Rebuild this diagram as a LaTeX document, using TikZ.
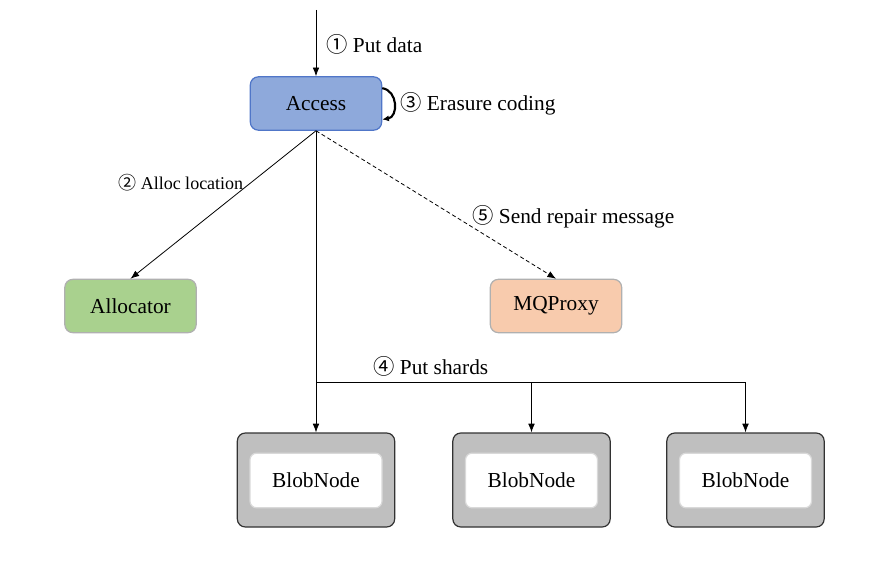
\documentclass[tikz,border=0pt]{standalone}
\usepackage{fontspec}
\setmainfont{Liberation Serif}
\newfontfamily\circfont{Noto Sans CJK SC}
\usepackage{tikz}
\usetikzlibrary{arrows.meta}

\definecolor{accessfill}{RGB}{142,169,219}
\definecolor{accessdraw}{RGB}{80,118,200}
\definecolor{allocfill}{RGB}{169,209,142}
\definecolor{mqfill}{RGB}{248,203,173}
\definecolor{boxgray}{RGB}{176,176,176}
\definecolor{blobfill}{RGB}{191,191,191}
\definecolor{blobdraw}{RGB}{50,50,50}

\newcommand{\stepno}[1]{{\circfont #1}}

\tikzset{
  every node/.style={font=\fontsize{16}{19}\selectfont},
  svcbox/.style={draw=boxgray, rounded corners=6pt, line width=0.9pt,
    minimum width=98.5pt, minimum height=40pt, inner sep=0.75pt},
  blobouter/.style={draw=blobdraw, fill=blobfill, rounded corners=6pt,
    line width=0.9pt, minimum width=118pt, minimum height=70.5pt},
  blobinner/.style={draw=black!15, fill=white, rounded corners=5pt,
    line width=0.9pt, minimum width=99pt, minimum height=41pt, inner sep=0.75pt},
  arr/.style={-{Latex[length=6.5pt,width=5pt]}, line width=0.6pt},
  steptext/.style={anchor=west, inner sep=0.75pt},
}

\begin{document}
\begin{tikzpicture}[x=0.75pt,y=0.75pt,yscale=-1,xscale=1]
\useasboundingbox (0,0) rectangle (871,570);

%Shape: Rounded Rect [Access]
\node [svcbox, fill=accessfill, draw=accessdraw] (access) at (316,103.5) {Access};
%Shape: Rounded Rect [Allocator]
\node [svcbox, fill=allocfill] (allocator) at (130.5,306) {Allocator};
%Shape: Rounded Rect [MQProxy]
\node [svcbox, fill=mqfill] (mqproxy) at (556,306) {MQProxy};

%Shape: BlobNode boxes
\foreach \i/\x in {1/316,2/531.5,3/745.5}{
  \node [blobouter] (blob\i) at (\x,480) {};
  \node [blobinner] (blobin\i) at (\x,480.5) {BlobNode};
}

%Straight Lines [put data]
\coordinate (client) at (316,10);
\draw [arr] (client) -- (access.north);
%Curve Lines [erasure coding]
\draw [-{Latex[length=5pt,width=4.5pt]}, line width=1.6pt]
  ([yshift=-11.5pt]access.east) .. controls +(12pt,2pt) and +(12pt,-2pt) .. ([yshift=12pt]access.east);
%Straight Lines [alloc location]
\draw [arr] (access.south) -- (allocator.north);
%Straight Lines [repair message]
\draw [arr, dashed, dash pattern=on 3pt off 2pt] (access.south) -- (mqproxy.north);
%Straight Lines [put shards]
\coordinate (split) at (316,382);
\draw [arr] (access.south) -- (blob1.north);
\draw [arr] (split) -| (blob2.north);
\draw [arr] (split) -| (blob3.north);

% Text Node
\node [steptext] (lblput) at (325,44) {\stepno{①} Put data};
% Text Node
\node [steptext] (lblec) at (399,104) {\stepno{③} Erasure coding};
% Text Node
\node [steptext, font=\fontsize{13.5}{16}\selectfont] (lblalloc) at (117,183) {\stepno{②} Alloc location};
% Text Node
\node [steptext] (lblrepair) at (471,217) {\stepno{⑤} Send repair message};
% Text Node
\node [steptext] (lblshards) at (372,366) {\stepno{④} Put shards};

\end{tikzpicture}
\end{document}
